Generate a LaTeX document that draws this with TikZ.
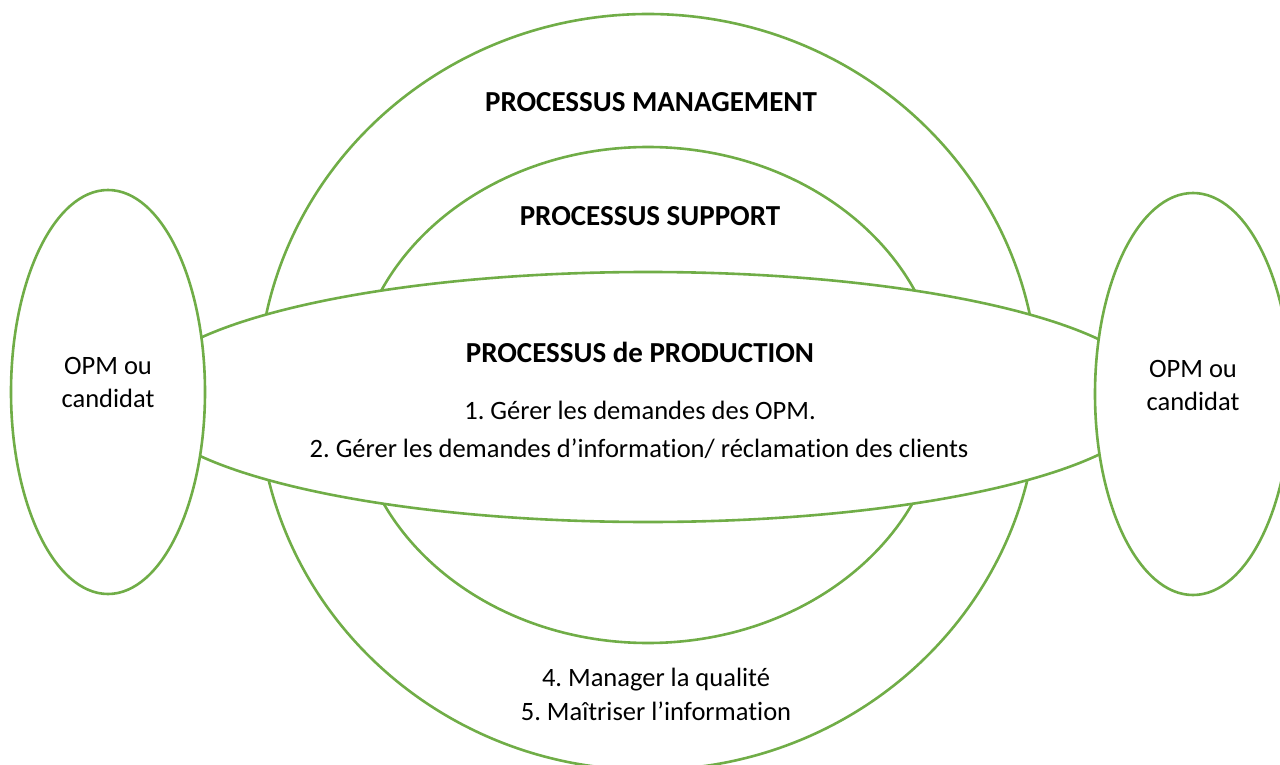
\documentclass[tikz,border=0pt]{standalone}
\usepackage{fontspec}
\setmainfont{Carlito}[Ligatures={NoCommon}]
\usetikzlibrary{shapes.geometric}
\definecolor{pgreen}{HTML}{70AD47}
\tikzset{
  ring/.style={ellipse, draw=pgreen, line width=2.6pt, inner sep=0pt},
  ringw/.style={ring, fill=white},
  lbl/.style={font=\fontsize{26.5}{33}\selectfont\frenchspacing, align=center, inner sep=0pt},
  blbl/.style={lbl, font=\fontsize{29}{33}\selectfont\bfseries}
}
\begin{document}
\begin{tikzpicture}[x=1pt,y=-1pt]
\useasboundingbox (0,0) rectangle (1280,765);
\node[ring, minimum width=780pt, minimum height=756pt] (mgmt) at (648,392) {};
\node[ring, minimum width=588pt, minimum height=496pt] (supp) at (648,395) {};
\node[ringw, minimum width=1016pt, minimum height=250pt] (prod) at (648,397) {};
\node[ringw, minimum width=194pt, minimum height=404pt] (opmL) at (108,392) {};
\node[ringw, minimum width=196pt, minimum height=402pt] (opmR) at (1193,394) {};

\node[blbl] (tmgmt) at (651,102) {PROCESSUS MANAGEMENT};
\node[blbl] (tsupp) at (650,216) {PROCESSUS SUPPORT};
\node[blbl] (tprod) at (640,352) {PROCESSUS de PRODUCTION};
\node[lbl] (p1) at (640,410) {1. Gérer les demandes des OPM.};
\node[lbl] (p2) at (639,449) {2. Gérer les demandes d’information/ réclamation des clients};
\node[lbl] (m4) at (656,680) {4. Manager la qualité};
\node[lbl] (m5) at (656,711) {5. Maîtriser l’information};
\node[lbl] (tL) at (108,382) {OPM ou\\candidat};
\node[lbl] (tR) at (1193,385) {OPM ou\\candidat};
\end{tikzpicture}
\end{document}
